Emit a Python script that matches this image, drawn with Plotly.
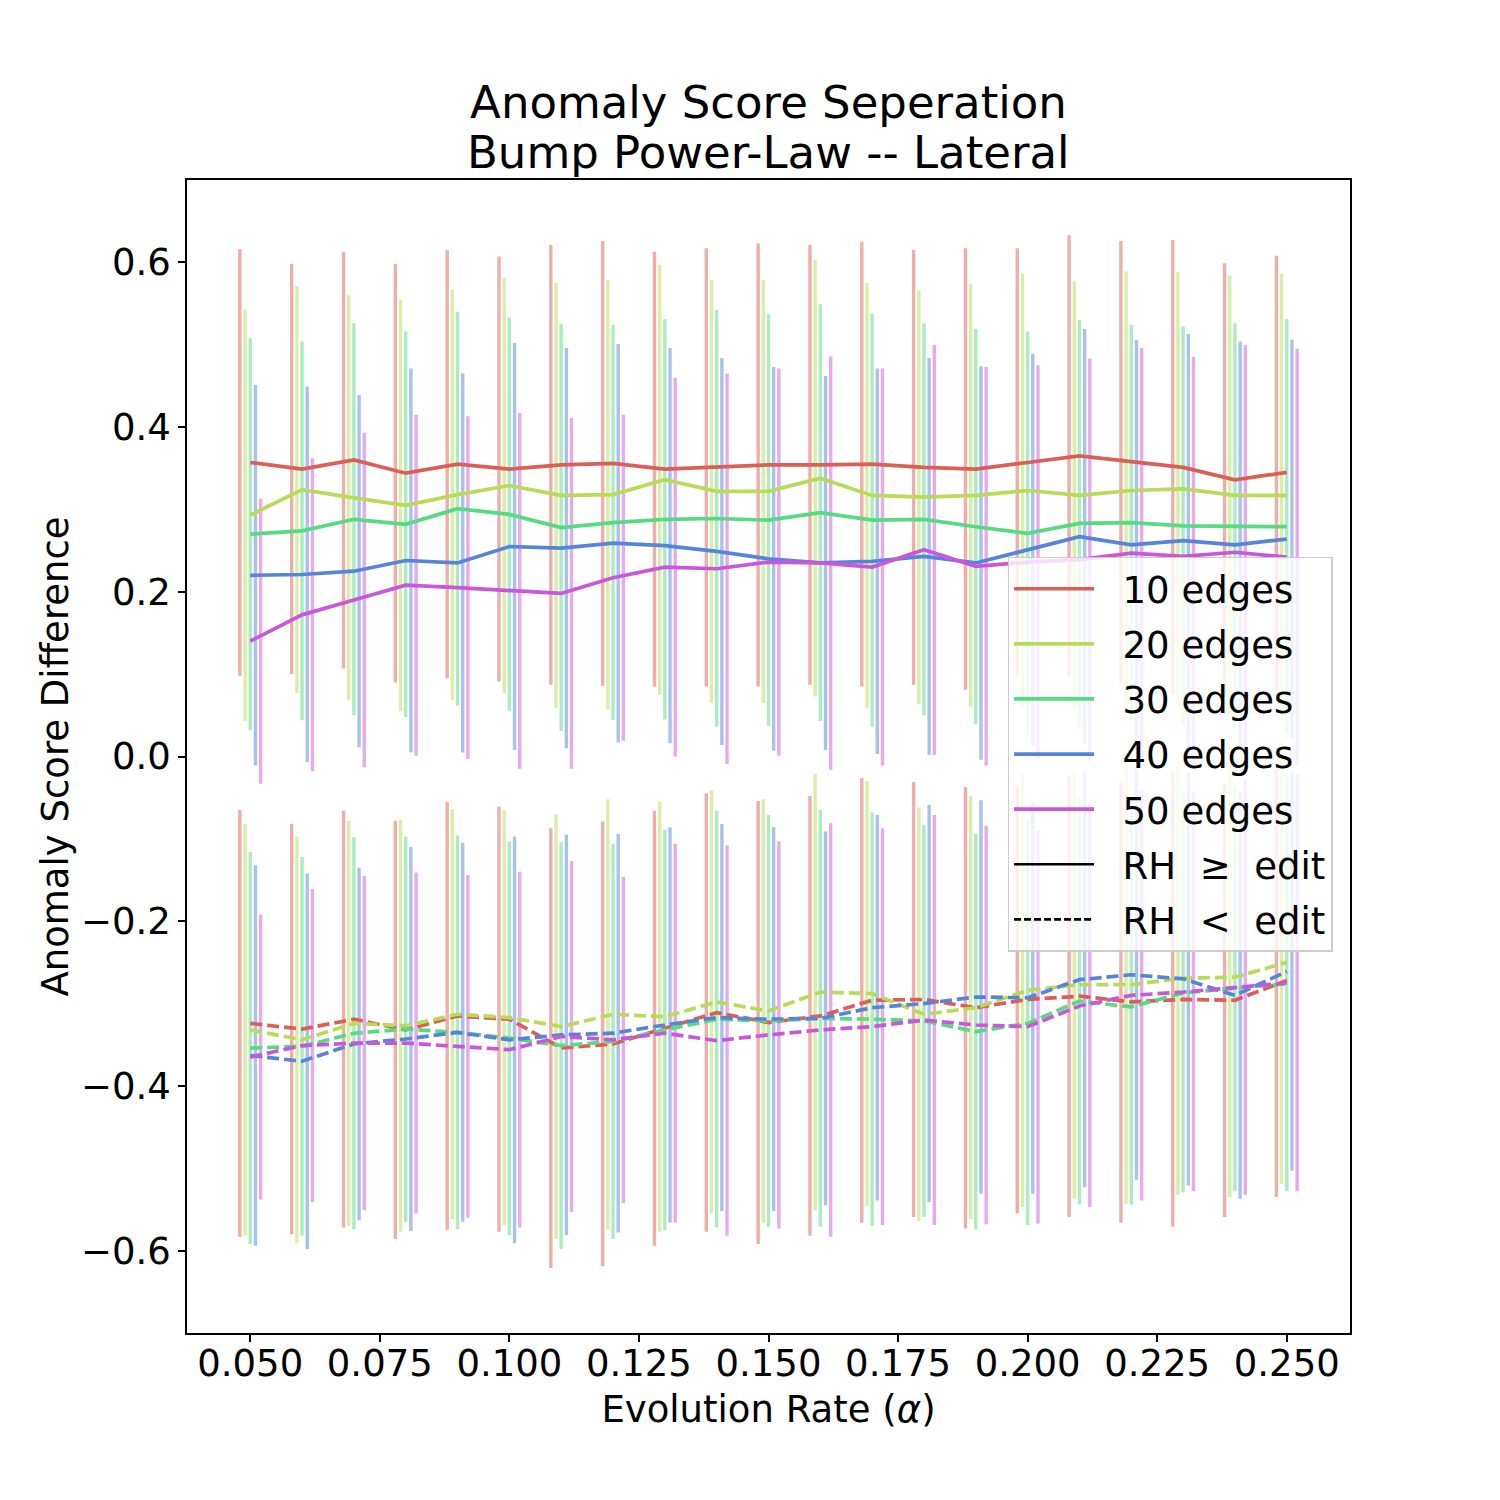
import plotly.graph_objects as go

# ---------------- data ----------------
alpha = [0.05, 0.06, 0.07, 0.08, 0.09, 0.10, 0.11, 0.12, 0.13, 0.14, 0.15,
         0.16, 0.17, 0.18, 0.19, 0.20, 0.21, 0.22, 0.23, 0.24, 0.25]

series_names = ["10 edges", "20 edges", "30 edges", "40 edges", "50 edges"]

# RH >= edit (solid lines) : mean anomaly score difference
mean_ge_10 = [0.357, 0.349, 0.360, 0.344, 0.355, 0.349, 0.354, 0.356, 0.349, 0.351, 0.354,
              0.354, 0.355, 0.351, 0.349, 0.357, 0.365, 0.358, 0.351, 0.336, 0.345]
mean_ge_20 = [0.293, 0.324, 0.314, 0.305, 0.318, 0.329, 0.317, 0.318, 0.336, 0.322, 0.322,
              0.338, 0.317, 0.315, 0.317, 0.323, 0.317, 0.323, 0.325, 0.317, 0.317]
mean_ge_30 = [0.270, 0.274, 0.288, 0.282, 0.301, 0.294, 0.278, 0.284, 0.288, 0.289, 0.287,
              0.296, 0.287, 0.288, 0.279, 0.271, 0.283, 0.284, 0.280, 0.280, 0.279]
mean_ge_40 = [0.220, 0.221, 0.225, 0.238, 0.235, 0.255, 0.253, 0.259, 0.256, 0.249, 0.240,
              0.235, 0.237, 0.243, 0.235, 0.251, 0.267, 0.257, 0.262, 0.257, 0.264]
mean_ge_50 = [0.140, 0.172, 0.190, 0.208, 0.205, 0.201, 0.198, 0.217, 0.230, 0.228, 0.236,
              0.235, 0.230, 0.251, 0.231, 0.236, 0.239, 0.247, 0.243, 0.248, 0.242]

# RH < edit (dashed lines) : mean anomaly score difference
mean_lt_10 = [-0.324, -0.331, -0.319, -0.332, -0.315, -0.319, -0.354, -0.349, -0.330, -0.311, -0.323,
              -0.315, -0.296, -0.295, -0.305, -0.295, -0.291, -0.298, -0.295, -0.296, -0.272]
mean_lt_20 = [-0.332, -0.344, -0.324, -0.327, -0.313, -0.317, -0.328, -0.313, -0.316, -0.298, -0.309,
              -0.286, -0.288, -0.313, -0.305, -0.284, -0.277, -0.277, -0.269, -0.268, -0.250]
mean_lt_30 = [-0.354, -0.352, -0.336, -0.331, -0.335, -0.342, -0.351, -0.346, -0.332, -0.319, -0.321,
              -0.318, -0.319, -0.321, -0.334, -0.324, -0.297, -0.304, -0.287, -0.282, -0.276]
mean_lt_40 = [-0.363, -0.370, -0.349, -0.343, -0.335, -0.344, -0.338, -0.336, -0.326, -0.317, -0.319,
              -0.318, -0.305, -0.300, -0.292, -0.293, -0.271, -0.265, -0.270, -0.290, -0.261]
mean_lt_50 = [-0.365, -0.351, -0.348, -0.348, -0.352, -0.356, -0.340, -0.344, -0.336, -0.345, -0.338,
              -0.332, -0.328, -0.320, -0.326, -0.328, -0.303, -0.290, -0.286, -0.280, -0.275]

# standard deviations (error bars)
std_10 = [0.259, 0.249, 0.253, 0.254, 0.260, 0.258, 0.267, 0.270, 0.264, 0.266, 0.269,
          0.267, 0.270, 0.264, 0.268, 0.260, 0.268, 0.268, 0.276, 0.263, 0.263]
std_20 = [0.250, 0.247, 0.246, 0.250, 0.249, 0.252, 0.258, 0.261, 0.261, 0.257, 0.257,
          0.265, 0.258, 0.251, 0.257, 0.263, 0.260, 0.266, 0.263, 0.267, 0.269]
std_30 = [0.238, 0.230, 0.238, 0.234, 0.239, 0.239, 0.247, 0.240, 0.243, 0.253, 0.250,
          0.253, 0.251, 0.238, 0.240, 0.245, 0.247, 0.240, 0.242, 0.246, 0.252]
std_40 = [0.231, 0.228, 0.214, 0.233, 0.230, 0.247, 0.243, 0.242, 0.240, 0.235, 0.233,
          0.227, 0.234, 0.241, 0.239, 0.238, 0.252, 0.249, 0.251, 0.247, 0.242]
std_50 = [0.173, 0.190, 0.203, 0.207, 0.208, 0.216, 0.213, 0.198, 0.230, 0.237, 0.235,
          0.251, 0.241, 0.249, 0.242, 0.239, 0.244, 0.249, 0.242, 0.252, 0.253]

x_ticks = [0.050, 0.075, 0.100, 0.125, 0.150, 0.175, 0.200, 0.225, 0.250]
y_ticks = [-0.6, -0.4, -0.2, 0.0, 0.2, 0.4, 0.6]

title_line1 = "Anomaly Score Seperation"
title_line2 = "Bump Power-Law -- Lateral"

# ---------------- styling ----------------
colors = ["#db5f57", "#b9db57", "#57db80", "#5784db", "#c957db"]
bar_colors = ["rgba(219,95,87,0.5)", "rgba(185,219,87,0.5)", "rgba(87,219,128,0.5)",
              "rgba(87,132,219,0.5)", "rgba(201,87,219,0.5)"]
FONT = "DejaVu Sans"
NB = "\u00a0"

means_ge = [mean_ge_10, mean_ge_20, mean_ge_30, mean_ge_40, mean_ge_50]
means_lt = [mean_lt_10, mean_lt_20, mean_lt_30, mean_lt_40, mean_lt_50]
stds = [std_10, std_20, std_30, std_40, std_50]

fig = go.Figure()

# error bars (offset slightly per series), drawn first so lines sit on top
for k in range(5):
    shift = (k - 2) * 0.001
    xs = [a + shift for a in alpha]
    for means in (means_ge, means_lt):
        fig.add_trace(go.Scatter(
            x=xs, y=means[k], mode="markers",
            marker=dict(size=1, color="rgba(0,0,0,0)"),
            error_y=dict(type="data", array=stds[k], visible=True,
                         color=bar_colors[k], thickness=3.4, width=0),
            showlegend=False, hoverinfo="skip"))

# mean lines
for k in range(5):
    fig.add_trace(go.Scatter(
        x=alpha, y=means_ge[k], mode="lines", name=NB * 2 + series_names[k],
        line=dict(color=colors[k], width=3.7), legendgroup="g%d" % k))
for k in range(5):
    fig.add_trace(go.Scatter(
        x=alpha, y=means_lt[k], mode="lines", showlegend=False,
        line=dict(color=colors[k], width=3.7, dash="12px,5px")))

# style legend entries
fig.add_trace(go.Scatter(x=[None], y=[None], mode="lines",
                         name=NB * 2 + "RH" + NB * 2 + "≥" + NB * 2 + "edit",
                         line=dict(color="black", width=2.6), legendgroup="g5"))
fig.add_trace(go.Scatter(x=[None], y=[None], mode="lines",
                         name=NB * 2 + "RH" + NB * 2 + "<" + NB * 2 + "edit",
                         line=dict(color="black", width=2.6, dash="7px,3px"), legendgroup="g6"))

fig.update_layout(
    width=1500, height=1500,
    margin=dict(l=187, r=150, t=180, b=167, autoexpand=False),
    paper_bgcolor="white", plot_bgcolor="white",
    font=dict(family=FONT, size=37, color="black"),
    title=dict(text=title_line1,
               font=dict(size=45, family=FONT, color="black"),
               x=0.5, xref="paper", xanchor="center",
               y=1 - 102 / 1500, yref="container", yanchor="middle"),
    annotations=[dict(text=title_line2, font=dict(size=45, family=FONT, color="black"),
                      x=0.5, xref="paper", xanchor="center",
                      y=(1333 - 152) / 1153, yref="paper", yanchor="middle",
                      showarrow=False)],
    legend=dict(x=0.985, y=0.502, xanchor="right", yanchor="middle",
                bgcolor="rgba(255,255,255,0.8)", bordercolor="#cccccc", borderwidth=1.5,
                font=dict(size=37, family=FONT), itemwidth=80,
                traceorder="grouped", tracegroupgap=4),
    showlegend=True,
)

fig.update_xaxes(range=[0.0378, 0.2622], tickvals=x_ticks, tickformat=".3f",
                 showline=True, mirror=True, linecolor="black", linewidth=1.7,
                 ticks="outside", ticklen=7, tickwidth=1.7, tickcolor="black",
                 ticklabelstandoff=-10,
                 showgrid=False, zeroline=False,
                 title=dict(text="Evolution Rate (<i>α</i>)", font=dict(size=37, family=FONT),
                            standoff=12))
fig.update_yaxes(range=[-0.7, 0.7], tickvals=y_ticks, tickformat=".1f",
                 showline=True, mirror=True, linecolor="black", linewidth=1.7,
                 ticks="outside", ticklen=7, tickwidth=1.7, tickcolor="black",
                 showgrid=False, zeroline=False,
                 title=dict(text="Anomaly Score Difference", font=dict(size=37, family=FONT),
                            standoff=1))

fig.write_html("out.html")
